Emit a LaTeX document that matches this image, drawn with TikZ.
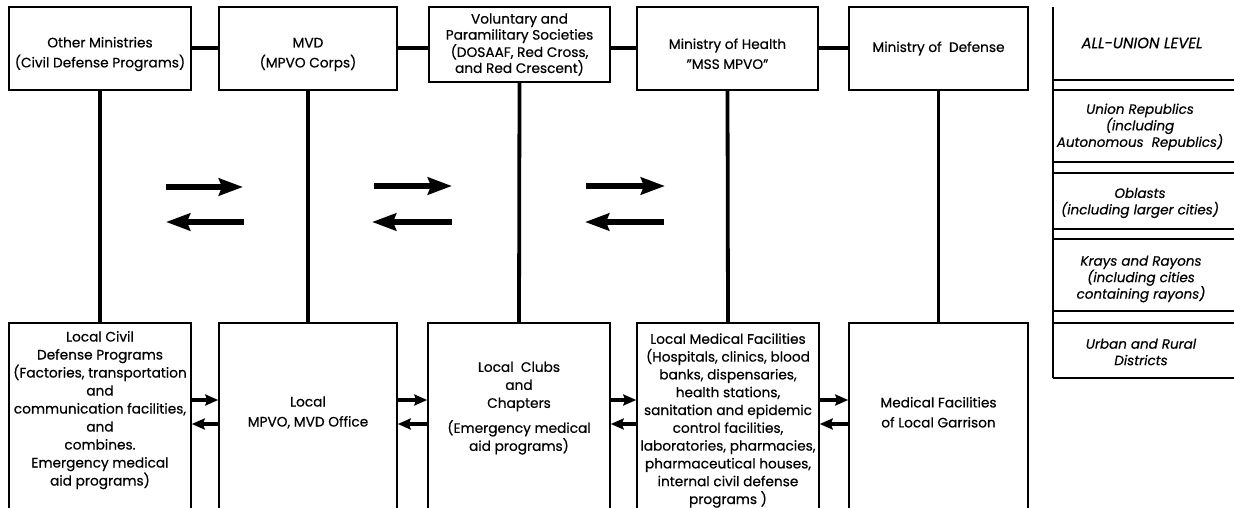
\documentclass[tikz,border=0pt]{standalone}
\usepackage{fontspec}
\setmainfont{Poppins}[FakeBold=0.5]
\usetikzlibrary{arrows.meta}
\tikzset{
  box/.style={draw, line width=1.5pt, align=center, inner sep=2pt, font=\fontsize{13.7}{20}\selectfont},
  link/.style={line width=4.5pt},
  vlink/.style={line width=3.8pt},
  bigarr/.style={line width=5.5pt, -{Stealth[length=24pt, width=17pt, inset=3pt]}},
  smallarr/.style={line width=4.5pt, -{Stealth[length=13pt, width=11pt, inset=2pt]}},
  lvl/.style={align=center, font=\itshape\fontsize{13.5}{16.5}\selectfont},
  rule/.style={line width=1.3pt}
}
\begin{document}
\begin{tikzpicture}[x=1pt,y=-1pt]
\useasboundingbox (0,0) rectangle (1234,508);
% top row
\node[box, minimum width=182pt, minimum height=83pt] (t1) at (100,48.5) {\mbox{}\\[1.5pt]Other Ministries\\(Civil Defense Programs)};
\node[box, minimum width=178pt, minimum height=83pt] (t2) at (308,48.5) {\mbox{}\\[1.5pt]MVD\\(MPVO Corps)};
\node[box, minimum width=181pt, minimum height=75pt, font=\fontsize{13.7}{16}\selectfont] (t3) at (519.5,44.5) {Voluntary and\\Paramilitary Societies\\(DOSAAF, Red Cross,\\and Red Crescent)};
\node[box, minimum width=181pt, minimum height=83pt] (t4) at (727.5,48.5) {\mbox{}\\[1pt]Ministry of Health\\"MSS MPVO"};
\node[box, minimum width=179pt, minimum height=83pt] (t5) at (938.5,48.5) {Ministry of~ Defense};
% bottom row
\node[box, minimum width=182pt, minimum height=189pt, font=\fontsize{13.7}{18}\selectfont] (b1) at (100,417.5) {Local Civil\\Defense Programs\\(Factories, transportation\\and\\communication facilities,\\and\\combines.\\Emergency medical\\aid programs)\\[-5pt]\strut};
\node[box, minimum width=178pt, minimum height=189pt] (b2) at (308,417.5) {\vphantom{X}\\[-30pt]Local\\MPVO, MVD Office};
\node[box, minimum width=182pt, minimum height=189pt, font=\fontsize{13.7}{18}\selectfont] (b3) at (519,417.5) {Local~ Clubs\\and\\Chapters\\[7pt](Emergency medical\\aid programs)\\[-1pt]\strut};
\node[box, minimum width=182pt, minimum height=189pt, font=\fontsize{13.7}{17.8}\selectfont] (b4) at (728,417.5) {\mbox{}\\[-1.3pt]Local Medical Facilities\\(Hospitals, clinics, blood\\banks, dispensaries,\\health stations,\\sanitation and epidemic\\control facilities,\\laboratories, pharmacies,\\pharmaceutical houses,\\internal civil defense\\programs )};
\node[box, minimum width=179pt, minimum height=189pt] (b5) at (938.5,417.5) {\vphantom{X}\\[-30pt]Medical Facilities\\of Local Garrison};
% horizontal links at the top
\draw[link] (t1.east |- 0,48) -- (t2.west |- 0,48);
\draw[link] (t2.east |- 0,48) -- (t3.west |- 0,48);
\draw[link] (t3.east |- 0,48) -- (t4.west |- 0,48);
\draw[link] (t4.east |- 0,48) -- (t5.west |- 0,48);
% vertical links
\foreach \i in {1,...,5} { \draw[vlink] (t\i.south) -- (b\i.north); }
% middle arrows
\coordinate (ma1) at (166,187); \coordinate (mb1) at (243,187);
\coordinate (mc1) at (244,222); \coordinate (md1) at (166,222);
\coordinate (ma2) at (374,186); \coordinate (mb2) at (452,186);
\coordinate (mc2) at (452,222); \coordinate (md2) at (372,222);
\coordinate (ma3) at (586,186); \coordinate (mb3) at (665,186);
\coordinate (mc3) at (664,222); \coordinate (md3) at (585,222);
\foreach \i in {1,2,3} {
  \draw[bigarr] (ma\i) -- (mb\i);
  \draw[bigarr] (mc\i) -- (md\i);
}
% bottom arrows
\foreach \a/\b in {b1/b2,b2/b3,b3/b4,b4/b5} {
  \draw[smallarr] (\a.east |- 0,400) -- (\b.west |- 0,400);
  \draw[smallarr] (\b.west |- 0,424) -- (\a.east |- 0,424);
}
% right panel: levels
\draw[rule] (1053,7) -- (1053,378);
\draw[line width=2pt] (1053,80) -- (1240,80);
\foreach \yy in {90,162,173,229,239,311,323,378} { \draw[rule] (1053,\yy) -- (1240,\yy); }
\node[lvl, font=\itshape\fontsize{15}{16.5}\selectfont] (l1) at (1142,43) {ALL-UNION LEVEL};
\node[lvl] (l2) at (1140,127) {Union Republics\\(including\\Autonomous~ Republics)};
\node[lvl] (l3) at (1140,203) {Oblasts\\(including larger cities)};
\node[lvl] (l4) at (1141,279) {Krays and Rayons\\(including cities\\containing rayons)};
\node[lvl] (l5) at (1141,352) {Urban and Rural\\Districts};
\end{tikzpicture}
\end{document}
